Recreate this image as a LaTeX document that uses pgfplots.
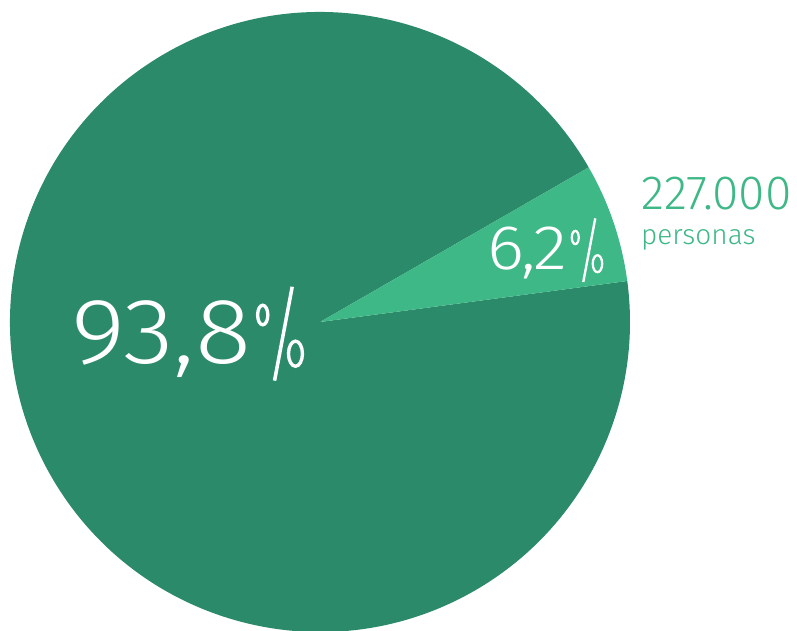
\documentclass[border=0pt]{standalone}
\usepackage{pgfplots}
\pgfplotsset{compat=1.18}
\usepackage{pgfplotstable}
\usepackage{fontspec}
\setmainfont{Fira Sans}[UprightFont=* Light]
\newfontfamily\numfont{Fira Sans}[UprightFont=* Light, FakeStretch=1.12]
\definecolor{darkg}{HTML}{2B8A6A}
\definecolor{lightg}{HTML}{3DB886}
\pgfplotstableread{
label value
otros 93.8
personas 6.2
}\piedata
\newcommand\pct{\kern0.03em\tikz[baseline=0pt,x=1em,y=1em]{%
  \path (0,0) rectangle (0.55,0.1);
  \draw[line width=0.038em] (0.41,0.82) -- (0.22,-0.19);
  \draw[line width=0.036em] (0.093,0.516) ellipse (0.055 and 0.105);
  \draw[line width=0.036em] (0.445,0.1) ellipse (0.075 and 0.135);}}
\begin{document}
\begin{tikzpicture}
\pgfplotstablegetelem{0}{value}\of\piedata\let\vA\pgfplotsretval
\pgfplotstablegetelem{1}{value}\of\piedata\let\vB\pgfplotsretval
\pgfmathsetmacro\startB{7.6}
\pgfmathsetmacro\endB{\startB+3.6*\vB}
\pgfmathsetmacro\endA{\endB+3.6*\vA}
\begin{axis}[
  at={(0,0)}, anchor=origin,
  scale only axis, width=797pt, height=630pt,
  xmin=0, xmax=797, ymin=0, ymax=630,
  hide axis, clip=true]
\addplot[draw=none] coordinates {(0,0) (797,630)};
\fill[darkg] (axis cs:320,308) -- ++(\endB:310pt) arc[start angle=\endB, end angle=\endA, radius=310pt] -- cycle;
\fill[lightg] (axis cs:320,308) -- ++(\startB:310pt) arc[start angle=\startB, end angle=\endB, radius=310pt] -- cycle;
\node[anchor=base west, inner sep=0pt, text=white, font=\numfont\fontsize{93}{93}\selectfont] at (axis cs:71,267) {93,8\pct};
\node[anchor=base west, inner sep=0pt, text=white, font=\numfont\fontsize{63}{63}\selectfont] at (axis cs:487,360) {6\kern-0.04em,\kern-0.04em2\pct};
\node[anchor=base west, inner sep=0pt, text=lightg, font=\fontsize{48}{48}\selectfont] at (axis cs:641,420) {227.000};
\node[anchor=base west, inner sep=0pt, text=lightg, font=\fontsize{28}{28}\selectfont] at (axis cs:641,385) {personas};
\end{axis}
\end{tikzpicture}
\end{document}
